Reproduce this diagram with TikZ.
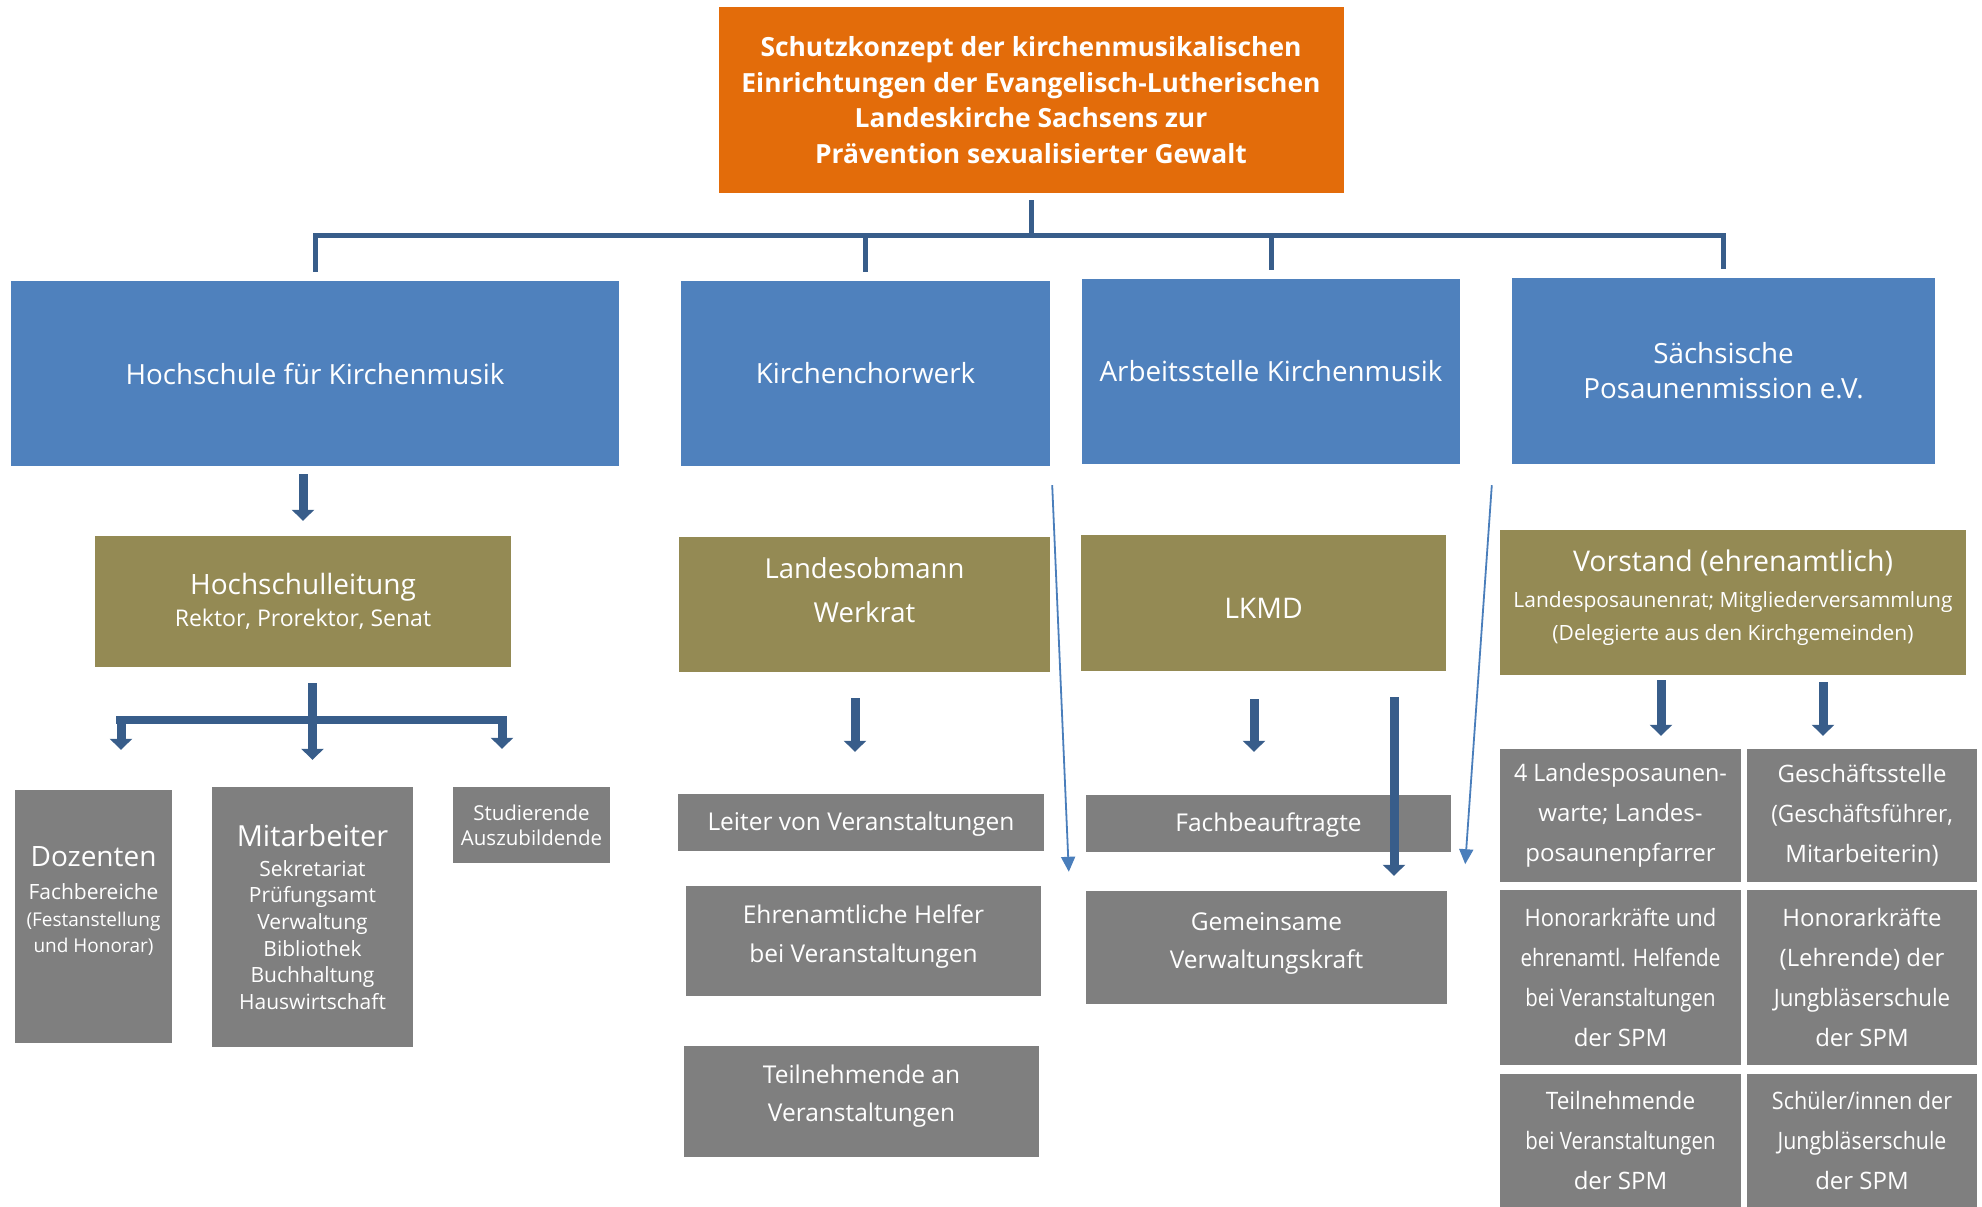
\documentclass[tikz,border=0pt]{standalone}
\usepackage{fontspec}
\usepackage{graphicx}
\setmainfont{Open Sans}
\usetikzlibrary{arrows.meta}
\begin{document}
\begin{tikzpicture}[x=1pt,y=1pt]
\newcommand{\setfs}[2]{\fontsize{#1}{#2}\selectfont}
\newcommand{\squeeze}[2]{\scalebox{#1}[1]{#2}}
\definecolor{orangecolor}{RGB}{227,108,10}
\definecolor{bluecolor}{RGB}{79,129,189}
\definecolor{olivecolor}{RGB}{148,138,84}
\definecolor{graycolor}{RGB}{127,127,127}
\definecolor{linkcolor}{RGB}{56,93,138}
\definecolor{thincolor}{RGB}{74,126,187}
\tikzset{dims/.style 2 args={minimum width=#1pt,minimum height=#2pt}}
\tikzstyle{box}=[inner sep=0pt,text=white,align=center]
\tikzstyle{titlebox}=[box,fill=orangecolor,font=\bfseries\setfs{26.4}{35.5}]
\tikzstyle{unitbox}=[box,fill=bluecolor,font=\setfs{27.8}{35}]
\tikzstyle{leadbox}=[box,fill=olivecolor]
\tikzstyle{staffbox}=[box,fill=graycolor]
\tikzstyle{gridbox}=[staffbox,font=\setfs{24}{40}]
\tikzstyle{treeline}=[linkcolor,line width=5pt]
\tikzstyle{bigarrow}=[linkcolor,line width=9pt,-{Triangle[width=22pt,length=11pt]}]
\tikzstyle{thinarrow}=[thincolor,line width=1.8pt,-{Triangle[width=14pt,length=15pt]}]
\useasboundingbox (0,0) rectangle (1982,-1207);
% top
\node[titlebox,dims={625}{186}] (top) at (1031,-100) {Schutzkonzept der kirchenmusikalischen\\Einrichtungen der Evangelisch-Lutherischen\\Landeskirche Sachsens zur\\Prävention sexualisierter Gewalt};
% institutions
\node[unitbox,dims={608}{185}] (hs) at (315,-373.5) {Hochschule für Kirchenmusik};
\node[unitbox,dims={369}{185}] (kcw) at (865.5,-373.5) {Kirchenchorwerk};
\node[unitbox,dims={378}{185}] (ask) at (1271,-371.5) {Arbeitsstelle Kirchenmusik};
\node[unitbox,dims={423}{186}] (spm) at (1723.5,-371) {Sächsische\\Posaunenmission e.V.};
% leadership
\node[leadbox,dims={416}{131},font=\setfs{23}{32}] (hsl) at (303,-601.5) {\setfs{28}{32}Hochschulleitung\\Rektor, Prorektor, Senat};
\node[leadbox,dims={371}{135},font=\setfs{27.5}{44.5},text depth=29pt] (lob) at (864.5,-604.5) {Landesobmann\\Werkrat};
\node[leadbox,dims={365}{136},font=\setfs{28.4}{35},text height=30pt] (lkmd) at (1263.5,-603) {LKMD};
\node[leadbox,dims={466}{145},font=\setfs{21}{33},text depth=14pt] (vst) at (1733,-602.5) {{\setfs{28.5}{33}Vorstand (ehrenamtlich)}\\[3pt]Landesposaunenrat; Mitgliederversammlung\\(Delegierte aus den Kirchgemeinden)};
% people
\node[staffbox,dims={157}{253},font=\setfs{21}{26.5},text depth=34pt] (doz) at (93.5,-916.5) {{\setfs{28}{26.5}Dozenten}\\[7pt]Fachbereiche\\{\setfs{19}{26.5}(Festanstellung}\\{\setfs{19}{26.5}und Honorar)}};
\node[staffbox,dims={201}{260},font=\setfs{21}{26.7}] (mit) at (312.5,-917) {{\setfs{29}{26.7}Mitarbeiter}\\[3pt]Sekretariat\\Prüfungsamt\\Verwaltung\\Bibliothek\\Buchhaltung\\Hauswirtschaft};
\node[staffbox,dims={157}{76},font=\setfs{20.5}{25}] (stu) at (531.5,-825) {Studierende\\Auszubildende};
\node[staffbox,dims={366}{57},font=\setfs{24.5}{38},text height=22pt] (lei) at (861,-822.5) {Leiter von Veranstaltungen};
\node[staffbox,dims={355}{110},font=\setfs{24.5}{39},text depth=15pt] (ehr) at (863.5,-941) {Ehrenamtliche Helfer\\bei Veranstaltungen};
\node[staffbox,dims={355}{111},font=\setfs{24.5}{38},text depth=16pt] (tln) at (861.5,-1101.5) {Teilnehmende an\\Veranstaltungen};
\node[staffbox,dims={365}{57},font=\setfs{24.5}{38},text height=22pt] (fach) at (1268.5,-823.5) {Fachbeauftragte};
\node[staffbox,dims={361}{113},font=\setfs{24.5}{38},text depth=14pt] (gem) at (1266.5,-947.5) {Gemeinsame\\Verwaltungskraft};
\node[gridbox,dims={241}{133}] (pw) at (1620.5,-815.5) {\squeeze{0.97}{4 Landesposaunen-}\\warte; Landes-\\posaunenpfarrer};
\node[gridbox,dims={230}{133}] (gst) at (1862,-815.5) {Geschäftsstelle\\\squeeze{0.94}{(Geschäftsführer,}\\Mitarbeiterin)};
\node[gridbox,dims={241}{175}] (hon) at (1620.5,-977.5) {\squeeze{0.915}{Honorarkräfte und}\\\squeeze{0.86}{ehrenamtl. Helfende}\\\squeeze{0.85}{bei Veranstaltungen}\\der SPM};
\node[gridbox,dims={230}{175}] (hjs) at (1862,-977.5) {Honorarkräfte\\(Lehrende) der\\\squeeze{0.93}{Jungbläserschule}\\der SPM};
\node[gridbox,dims={241}{133}] (tspm) at (1620.5,-1140.5) {\squeeze{0.94}{Teilnehmende}\\\squeeze{0.85}{bei Veranstaltungen}\\der SPM};
\node[gridbox,dims={230}{133}] (sjs) at (1862,-1140.5) {\squeeze{0.9}{Schüler/innen der}\\\squeeze{0.89}{Jungbläserschule}\\der SPM};
% connectors
\draw[treeline] ([yshift=-7pt]top.south) -- ([yshift=-42pt]top.south) coordinate (j0);
\draw[treeline] ([yshift=9pt]hs.north) -- (j0 -| hs.north) -- (j0 -| spm.north) -- ([yshift=9pt]spm.north);
\draw[treeline] (j0 -| kcw.north) -- ([yshift=9pt]kcw.north);
\draw[treeline] (j0 -| ask.north) -- ([yshift=9pt]ask.north);
\draw[bigarrow] ([yshift=-8pt]hs.south -| hsl.north) -- ([yshift=15pt]hsl.north);
\coordinate (fl) at (121,-720);
\coordinate (fr) at (502,-720);
\draw[linkcolor,line width=8pt] ([xshift=-5pt]fl) -- ([xshift=5pt]fr);
\draw[bigarrow] ([yshift=-16pt]hsl.south -| mit.north) -- ([yshift=27pt]mit.north);
\draw[bigarrow] ([yshift=4pt]fl) -- ([yshift=40pt]doz.north -| fl);
\draw[bigarrow] ([yshift=4pt]fr) -- ([yshift=38pt]stu.north -| fr);
\draw[bigarrow] ([xshift=-9.5pt,yshift=-26pt]lob.south) -- ([xshift=-6pt,yshift=42pt]lei.north);
\draw[bigarrow] ([xshift=-9.5pt,yshift=-28pt]lkmd.south) -- ([xshift=-14.5pt,yshift=43pt]fach.north);
\draw[bigarrow] ([xshift=130.5pt,yshift=-26pt]lkmd.south) -- ([xshift=127.5pt,yshift=15pt]gem.north);
\draw[bigarrow] ([xshift=-72pt,yshift=-5pt]vst.south) -- ([xshift=40.5pt,yshift=13pt]pw.north);
\draw[bigarrow] ([xshift=90pt,yshift=-7pt]vst.south) -- ([xshift=-39pt,yshift=13pt]gst.north);
\draw[thinarrow] ([shift={(2pt,-19pt)}]kcw.south east) -- ([shift={(-17pt,19pt)}]gem.north west);
\draw[thinarrow] ([shift={(-20pt,-21pt)}]spm.south west) -- ([shift={(14pt,-12pt)}]fach.south east);
\end{tikzpicture}
\end{document}
